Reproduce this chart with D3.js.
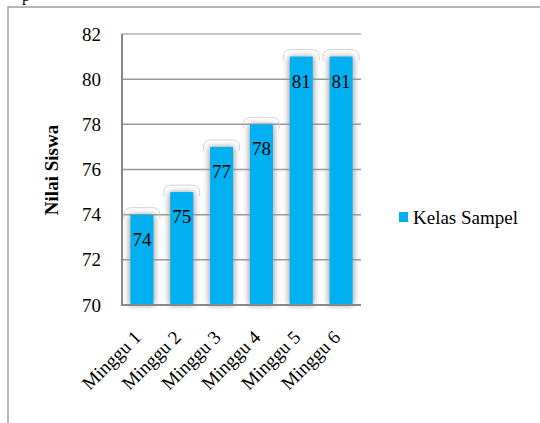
<!DOCTYPE html>
<html>
<head>
<meta charset="utf-8">
<script src="https://d3js.org/d3.v7.min.js"></script>
<style>
  body { margin: 0; background: #fff; }
  text { font-family: "Liberation Serif", "Times New Roman", serif; fill: #000; }
</style>
</head>
<body>
<div id="chart"></div>
<script>
// chart data
var categories = ["Minggu 1", "Minggu 2", "Minggu 3", "Minggu 4", "Minggu 5", "Minggu 6"];
var values = [74, 75, 77, 78, 81, 81];
var yTicks = [70, 72, 74, 76, 78, 80, 82];
var seriesName = "Kelas Sampel";
var yTitle = "Nilai Siswa";

var width = 540, height = 423;
var plot = {left: 122, right: 361, top: 34, bottom: 305};

var svg = d3.select("#chart").append("svg")
  .attr("width", width)
  .attr("height", height);

var defs = svg.append("defs");
defs.append("filter").attr("id", "shadow")
  .attr("x", "-50%").attr("width", "200%")
  .append("feGaussianBlur").attr("stdDeviation", 3);

// outer frame
svg.append("path")
  .attr("d", "M8," + height + " L8,7 L" + width + ",7")
  .attr("fill", "none")
  .attr("stroke", "#a0a0a0")
  .attr("stroke-width", 1.5);
svg.append("text").attr("x", 22).attr("y", 1).style("font-size", "16px").text("p");

var x = d3.scaleBand()
  .domain(categories)
  .range([plot.left, plot.right]);

var y = d3.scaleLinear()
  .domain([70, 82])
  .range([plot.bottom, plot.top]);

// gridlines
svg.append("g")
  .selectAll("line")
  .data(yTicks.filter(function(d) { return d > 70; }))
  .enter().append("line")
  .attr("x1", plot.left).attr("x2", plot.right)
  .attr("y1", function(d) { return y(d); })
  .attr("y2", function(d) { return y(d); })
  .attr("stroke", function(d) { return d === 82 ? "#b0b0b0" : "#999"; })
  .attr("stroke-width", 1.5);

var barW = 23;
var bars = svg.append("g").selectAll("g")
  .data(values)
  .enter().append("g");

// cap outline above each bar
bars.append("path")
  .attr("d", function(d, i) {
    var x0 = x(categories[i]) + 2, x1 = x(categories[i]) + x.bandwidth() - 2, t = y(d);
    return "M" + x0 + "," + (t + 4) + " L" + x0 + "," + (t) +
      " Q" + x0 + "," + (t - 7) + " " + (x0 + 8) + "," + (t - 7) +
      " L" + (x1 - 8) + "," + (t - 7) +
      " Q" + x1 + "," + (t - 7) + " " + x1 + "," + t +
      " L" + x1 + "," + (t + 4);
  })
  .attr("fill", "none")
  .attr("stroke", "#d4d4d4")
  .attr("stroke-width", 1);

// soft shadow
bars.append("rect")
  .attr("x", function(d, i) { return x(categories[i]) + (x.bandwidth() - barW) / 2 - 1; })
  .attr("y", function(d) { return y(d); })
  .attr("width", barW + 2)
  .attr("height", function(d) { return plot.bottom - y(d); })
  .attr("fill", "#9a9a9a")
  .attr("filter", "url(#shadow)");

bars.append("rect")
  .attr("x", function(d, i) { return x(categories[i]) + (x.bandwidth() - barW) / 2; })
  .attr("y", function(d) { return y(d); })
  .attr("width", barW)
  .attr("height", function(d) { return plot.bottom - y(d); })
  .attr("fill", "#00B0F0");

// value labels
bars.append("text")
  .attr("x", function(d, i) { return x(categories[i]) + x.bandwidth() / 2; })
  .attr("y", function(d) { return y(d) + 31; })
  .attr("text-anchor", "middle")
  .style("font-size", "19px")
  .text(function(d) { return d; });

// axis lines
svg.append("path")
  .attr("d", "M" + plot.left + "," + plot.top + " L" + plot.left + "," + plot.bottom + " L" + plot.right + "," + plot.bottom)
  .attr("fill", "none")
  .attr("stroke", "#888")
  .attr("stroke-width", 2);

// y tick labels
svg.append("g").selectAll("text")
  .data(yTicks)
  .enter().append("text")
  .attr("x", 101)
  .attr("y", function(d) { return y(d); })
  .attr("dy", "0.35em")
  .attr("text-anchor", "end")
  .style("font-size", "19px")
  .text(function(d) { return d; });

// x labels
svg.append("g").selectAll("text")
  .data(categories)
  .enter().append("text")
  .attr("transform", function(d) {
    return "translate(" + (x(d) + x.bandwidth() / 2 - 9) + "," + 329 + ") rotate(-45)";
  })
  .attr("dy", "0.7em")
  .attr("text-anchor", "end")
  .style("font-size", "19px")
  .text(function(d) { return d; });

// y title
svg.append("text")
  .attr("transform", "translate(58,170) rotate(-90)")
  .attr("text-anchor", "middle")
  .style("font-size", "19px")
  .style("font-weight", "bold")
  .text(yTitle);

// legend
svg.append("rect")
  .attr("x", 399).attr("y", 212)
  .attr("width", 9).attr("height", 10)
  .attr("fill", "#00B0F0");
svg.append("text")
  .attr("x", 413).attr("y", 224)
  .style("font-size", "19px")
  .text(seriesName);
</script>
</body>
</html>
